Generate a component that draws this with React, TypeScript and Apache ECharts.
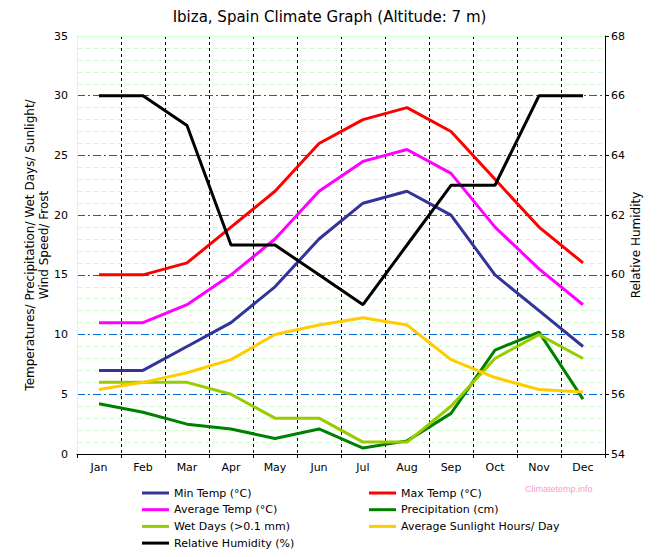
import React, { useEffect, useRef } from "react";
import * as echarts from "echarts";

const months = ["Jan", "Feb", "Mar", "Apr", "May", "Jun", "Jul", "Aug", "Sep", "Oct", "Nov", "Dec"];
const minTemp = [7, 7, 9, 11, 14, 18, 21, 22, 20, 15, 12, 9];
const maxTemp = [15, 15, 16, 19, 22, 26, 28, 29, 27, 23, 19, 16];
const avgTemp = [11, 11, 12.5, 15, 18, 22, 24.5, 25.5, 23.5, 19, 15.5, 12.5];
const precipitation = [4.2, 3.5, 2.5, 2.1, 1.3, 2.1, 0.5, 1.1, 3.4, 8.7, 10.2, 4.6];
const wetDays = [6, 6, 6, 5, 3, 3, 1, 1, 4, 8, 10, 8];
const sunlight = [5.4, 6, 6.8, 7.9, 10, 10.8, 11.4, 10.8, 7.9, 6.4, 5.4, 5.2];
const humidity = [66, 66, 65, 61, 61, 60, 59, 61, 63, 63, 66, 66];

const FONT = "DejaVu Sans";

export default function App() {
  const ref = useRef<HTMLDivElement>(null);
  useEffect(() => {
    const chart = echarts.init(ref.current!, null, { renderer: "svg" });
    const line = (name: string, data: number[], color: string, yAxisIndex = 0) => ({
      name,
      type: "line",
      data,
      yAxisIndex,
      symbol: "none",
      z: 5,
      lineStyle: { color, width: 3 },
      itemStyle: { color },
    });
    const legendCommon = {
      orient: "vertical",
      top: 486,
      itemGap: 2.7,
      itemWidth: 27,
      itemHeight: 3,
      icon: "rect",
      selectedMode: false,
      padding: 0,
      textStyle: { fontSize: 11, color: "#000", fontFamily: FONT, lineHeight: 14 },
    };
    chart.setOption({
      animation: false,
      backgroundColor: "#fff",
      title: {
        text: "Ibiza, Spain Climate Graph (Altitude: 7 m)",
        left: "center",
        top: 9,
        padding: 0,
        textStyle: { fontSize: 15, fontWeight: "normal", color: "#000", fontFamily: FONT },
      },
      grid: { left: 77, right: 54, top: 36, bottom: 103 },
      legend: [
        { ...legendCommon, left: 142, data: ["Min Temp (°C)", "Average Temp (°C)", "Wet Days (>0.1 mm)", "Relative Humidity (%)"] },
        { ...legendCommon, left: 369, data: ["Max Temp (°C)", "Precipitation (cm)", "Average Sunlight Hours/ Day"] },
      ],
      graphic: [
        {
          type: "text",
          left: 525,
          top: 484,
          style: { text: "Climatetemp.info", fill: "#ff99cc", fontSize: 9, fontFamily: "Liberation Sans" },
        },
      ],
      xAxis: [
        {
          type: "category",
          data: months,
          boundaryGap: true,
          z: 2,
          axisLine: { lineStyle: { color: "#000", width: 1 } },
          axisTick: { show: true, length: 4, lineStyle: { color: "#000" } },
          axisLabel: { fontSize: 11, color: "#000", fontFamily: FONT, margin: 8 },
          splitLine: {
            show: true,
            interval: (i: number) => i !== 0,
            lineStyle: { color: "#000", type: [3, 3], width: 1 },
          },
        },
        {
          type: "category",
          data: months,
          position: "top",
          boundaryGap: true,
          z: 3,
          axisLine: { lineStyle: { color: "#ccffcc", width: 1 } },
          axisTick: { show: false },
          axisLabel: { show: false },
          splitLine: { show: false },
        },
      ],
      yAxis: [
        {
          type: "value",
          min: 0,
          max: 35,
          interval: 5,
          z: 1,
          name: "Temperatures/ Precipitation/ Wet Days/ Sunlight/\nWind Speed/ Frost",
          nameLocation: "middle",
          nameRotate: 90,
          nameGap: 26,
          nameMoveOverlap: false,
          nameTextStyle: { fontSize: 12, color: "#000", fontFamily: FONT, lineHeight: 14 },
          axisLine: { show: true, lineStyle: { color: "#ccffcc" } },
          axisTick: { show: false },
          axisLabel: { fontSize: 11, color: "#000", fontFamily: FONT, margin: 9 },
          splitLine: {
            show: true,
            lineStyle: { color: "#0066cc", type: [8, 3, 2, 3], width: 1 },
          },
          minorTick: { show: false, splitNumber: 5 },
          minorSplitLine: { show: true, lineStyle: { color: "#ccffcc", type: [5, 3], width: 1 } },
        },
        {
          type: "value",
          min: 54,
          max: 68,
          interval: 2,
          position: "right",
          z: 3,
          name: "Relative Humidity",
          nameLocation: "middle",
          nameRotate: 90,
          nameGap: 25,
          nameMoveOverlap: false,
          nameTextStyle: { fontSize: 12, color: "#000", fontFamily: FONT },
          axisLine: { show: true, lineStyle: { color: "#000" } },
          axisTick: { show: true, length: 4, lineStyle: { color: "#000" } },
          axisLabel: { fontSize: 11, color: "#000", fontFamily: FONT, margin: 6 },
          splitLine: { show: false },
        },
      ],
      series: [
        line("Min Temp (°C)", minTemp, "#333399"),
        line("Max Temp (°C)", maxTemp, "#ff0000"),
        line("Average Temp (°C)", avgTemp, "#ff00ff"),
        line("Precipitation (cm)", precipitation, "#008000"),
        line("Wet Days (>0.1 mm)", wetDays, "#99cc00"),
        line("Average Sunlight Hours/ Day", sunlight, "#ffcc00"),
        line("Relative Humidity (%)", humidity, "#000000", 1),
      ],
    });
    return () => chart.dispose();
  }, []);
  return <div ref={ref} style={{ width: 659, height: 557, position: "absolute", left: 0, top: 0 }} />;
}
